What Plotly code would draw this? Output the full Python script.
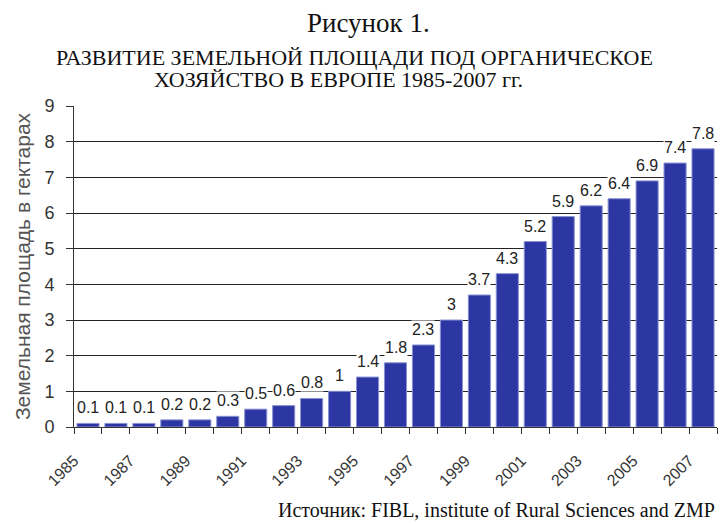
import plotly.graph_objects as go

years = list(range(1985, 2008))
area = [0.1, 0.1, 0.1, 0.2, 0.2, 0.3, 0.5, 0.6, 0.8, 1, 1.4, 1.8, 2.3, 3, 3.7, 4.3, 5.2, 5.9, 6.2, 6.4, 6.9, 7.4, 7.8]
labels = ["0.1", "0.1", "0.1", "0.2", "0.2", "0.3", "0.5", "0.6", "0.8", "1", "1.4", "1.8", "2.3", "3", "3.7", "4.3", "5.2", "5.9", "6.2", "6.4", "6.9", "7.4", "7.8"]
tick_years = list(range(1985, 2008, 2))

title_text = "Рисунок 1."
subtitle_line1 = "РАЗВИТИЕ ЗЕМЕЛЬНОЙ ПЛОЩАДИ ПОД ОРГАНИЧЕСКОЕ"
subtitle_line2 = "ХОЗЯЙСТВО В ЕВРОПЕ 1985-2007 гг."
y_title = "Земельная площадь в гектарах"
source_text = "Источник: FIBL, institute of Rural Sciences and ZMP"

serif = "Liberation Serif, Times New Roman, serif"
sans = "Liberation Sans, Arial, sans-serif"

fig = go.Figure()
fig.add_trace(go.Bar(
    x=years, y=area,
    marker=dict(color="#2c37a4", line=dict(color="#8a92d4", width=1)),
    width=0.79,
))

for yr, v, t in zip(years, area, labels):
    fig.add_annotation(x=yr, y=v, text=t, showarrow=False, yanchor="bottom", yshift=6,
                       bgcolor="white", borderpad=0,
                       font=dict(family=sans, size=16, color="#222"))

fig.add_annotation(x=0.458, y=1, xref="paper", yref="paper", yshift=83, text=title_text,
                   showarrow=False, yanchor="middle",
                   font=dict(family=serif, size=27, color="#111"))
fig.add_annotation(x=0.436, y=1, xref="paper", yref="paper", yshift=48.5, text=subtitle_line1,
                   showarrow=False, yanchor="middle",
                   font=dict(family=serif, size=22, color="#111"))
fig.add_annotation(x=0.411, y=1, xref="paper", yref="paper", yshift=26.5, text=subtitle_line2,
                   showarrow=False, yanchor="middle",
                   font=dict(family=serif, size=22, color="#111"))
fig.add_annotation(x=1, y=0, xref="paper", yref="paper", yshift=-83, text=source_text,
                   showarrow=False, xanchor="right", yanchor="middle",
                   font=dict(family=serif, size=20, color="#111"))

fig.update_layout(
    width=720, height=524,
    margin=dict(l=74, r=3, t=106, b=97),
    paper_bgcolor="white", plot_bgcolor="white",
    showlegend=False,
    xaxis=dict(
        range=[1984.5, 2007.5],
        tickvals=tick_years, ticktext=[str(y) for y in tick_years],
        tickangle=-45, ticks="",
        ticklabelstandoff=17, ticklabelshift=-14,
        tickfont=dict(family=sans, size=16, color="#333"),
        showline=True, linecolor="#333", linewidth=1,
        showgrid=False, zeroline=False,
        automargin=False,
        minor=dict(ticks="outside", tick0=1984.5, dtick=1, ticklen=6, tickcolor="#333", showgrid=False),
    ),
    yaxis=dict(
        range=[0, 9], dtick=1,
        ticks="outside", ticklen=7, tickcolor="#333",
        ticklabelstandoff=8,
        tickfont=dict(family=sans, size=18, color="#333"),
        showline=True, linecolor="#333", linewidth=1,
        showgrid=True, gridcolor="#222", gridwidth=1,
        zeroline=False,
        automargin=False,
        title=dict(text=y_title, standoff=8,
                   font=dict(family=sans, size=21, color="#555")),
    ),
)

fig.write_html("out.html", config={"displayModeBar": False},
               post_script="document.body.style.margin='0';document.body.style.padding='0';")
